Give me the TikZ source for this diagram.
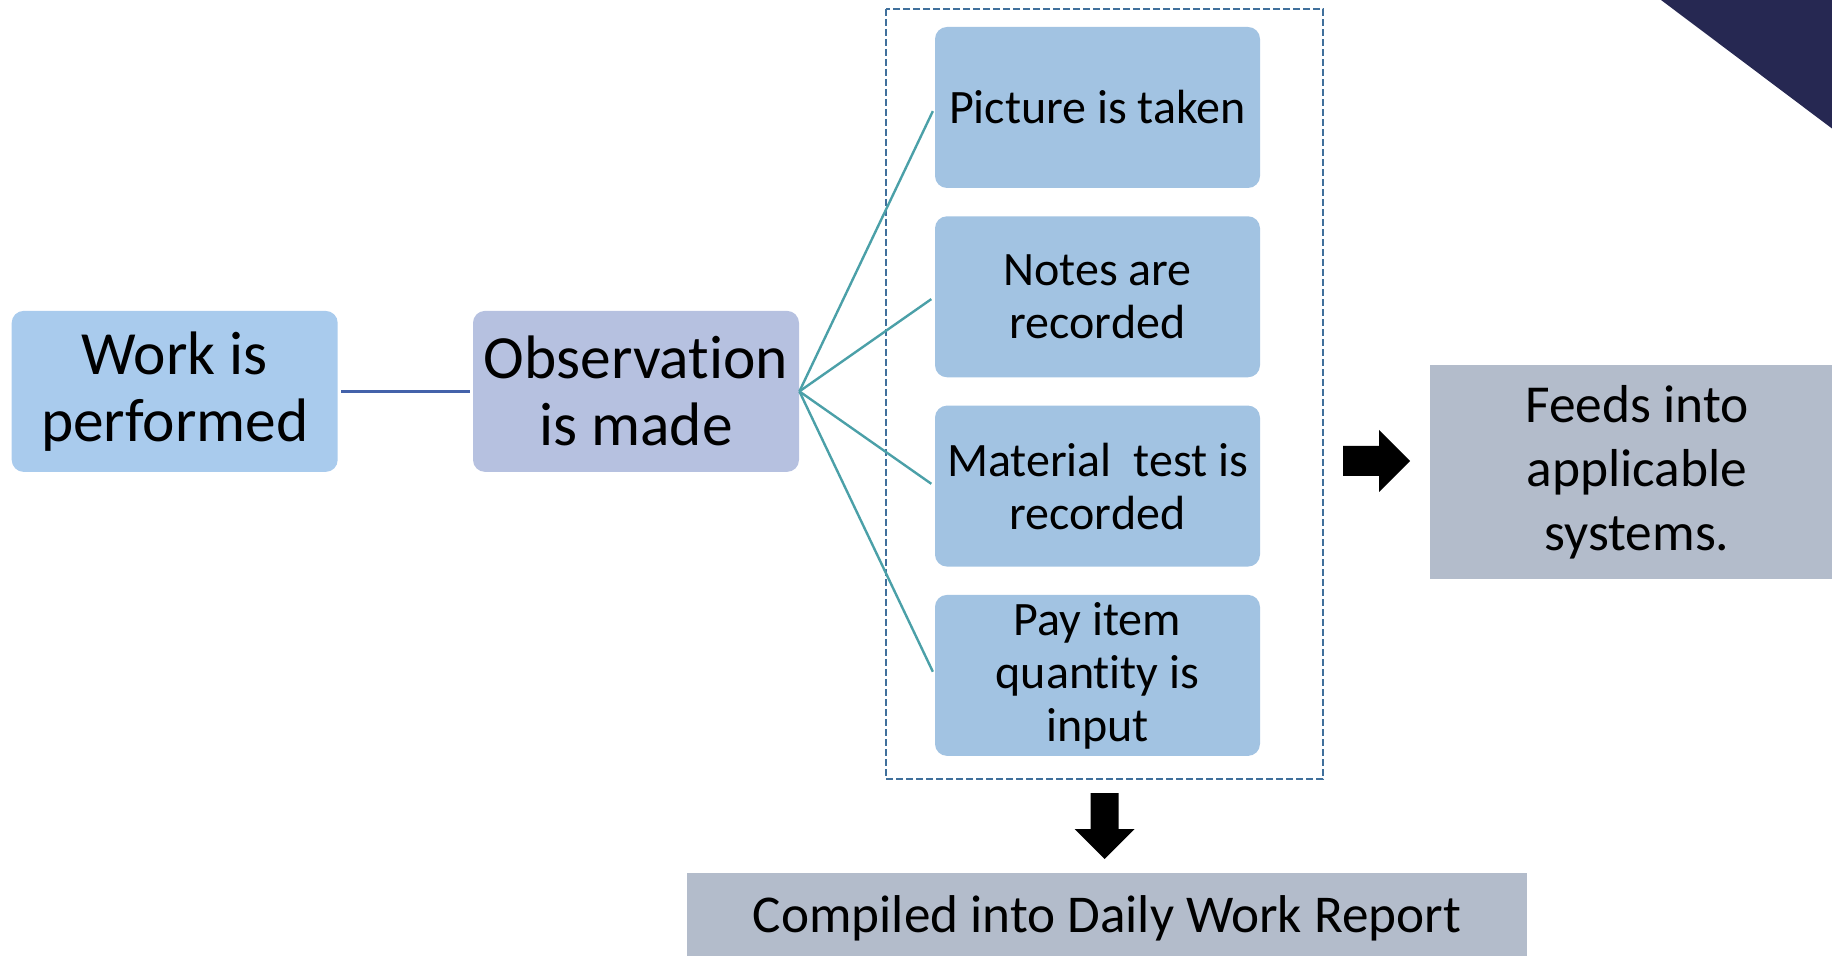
\documentclass[tikz,border=0pt]{standalone}
\usepackage{fontspec}
\setmainfont{Carlito}[Ligatures=NoCommon]
\usetikzlibrary{calc}
\definecolor{workblue}{RGB}{169,203,237}
\definecolor{obslav}{RGB}{182,193,224}
\definecolor{stepblue}{RGB}{162,195,226}
\definecolor{feedgrey}{RGB}{179,188,203}
\definecolor{navy}{RGB}{38,40,82}
\definecolor{dashblue}{RGB}{64,112,156}
\definecolor{tealline}{RGB}{75,160,168}
\definecolor{linkblue}{RGB}{68,98,170}
\tikzset{
  bigbox/.style={rectangle, rounded corners=6pt, minimum width=163pt, minimum height=80.5pt, align=center, inner sep=2pt, font=\fontsize{30.7}{33.5}\selectfont},
  stepbox/.style={rectangle, rounded corners=6pt, fill=stepblue, minimum width=162.5pt, minimum height=80.5pt, align=center, inner sep=2pt, font=\fontsize{24}{26.5}\selectfont},
  greybox/.style={rectangle, fill=feedgrey, align=center, inner sep=2pt, font=\fontsize{26.7}{32}\selectfont},
  branch/.style={draw=tealline, line width=1.2pt, shorten >=2pt},
}
\begin{document}
\begin{tikzpicture}[x=0.5pt,y=-0.5pt]
\useasboundingbox (0,0) rectangle (1832,956);
\def\BX{1097.5}\def\DY{189.3}
\fill[navy] (1661,0) -- (1832,0) -- (1832,128.5) -- cycle;
\node[bigbox, fill=workblue] (work) at (174.7,391.4) {Work is\\performed};
\node[bigbox, fill=obslav] (obs) at (636,391.4) {Observation\\is made};
\draw[linkblue, line width=1.6pt, shorten <=1.5pt, shorten >=1.5pt] (work.east) -- (obs.west);
\coordinate (g1) at (886,9); \coordinate (g2) at (1323,779);
\draw[dashblue, line width=1.1pt, dash pattern=on 3.5pt off 1.5pt] (g1) rectangle (g2);
\node[stepbox] (pic) at (\BX,107.5) {Picture is taken};
\node[stepbox] (notes) at (\BX,107.5+\DY) {Notes are\\recorded};
\node[stepbox] (mat) at (\BX,107.5+2*\DY) {Material\ \ test is\\recorded};
\node[stepbox] (pay) at (\BX,107.5+3*\DY) {Pay item\\quantity is\\input};
\draw[branch] (obs.east) -- (pic.west);
\draw[branch] (obs.east) -- (notes.west);
\draw[branch] (obs.east) -- (mat.west);
\draw[branch] (obs.east) -- (pay.west);
\node[greybox, minimum width=207pt, minimum height=107pt] (feeds) at (1637,472) {Feeds into\\applicable\\systems.};
\node[greybox, minimum width=420pt, minimum height=45.5pt, font=\fontsize{26.6}{31}\selectfont] (report) at (1107,918.5) {Compiled into Daily Work Report};
\coordinate (ra) at (1343,461);
\fill (ra) ++(0,-15) -- ++(36,0) -- ++(0,-16) -- ++(31,31) -- ++(-31,31) -- ++(0,-16) -- ++(-36,0) -- cycle;
\coordinate (da) at ($(g1)!0.5!(g2) + (0,399)$);
\fill (da) ++(-14,0) -- ++(0,36) -- ++(-16,0) -- ++(30,30) -- ++(30,-30) -- ++(-16,0) -- ++(0,-36) -- cycle;
\end{tikzpicture}
\end{document}
